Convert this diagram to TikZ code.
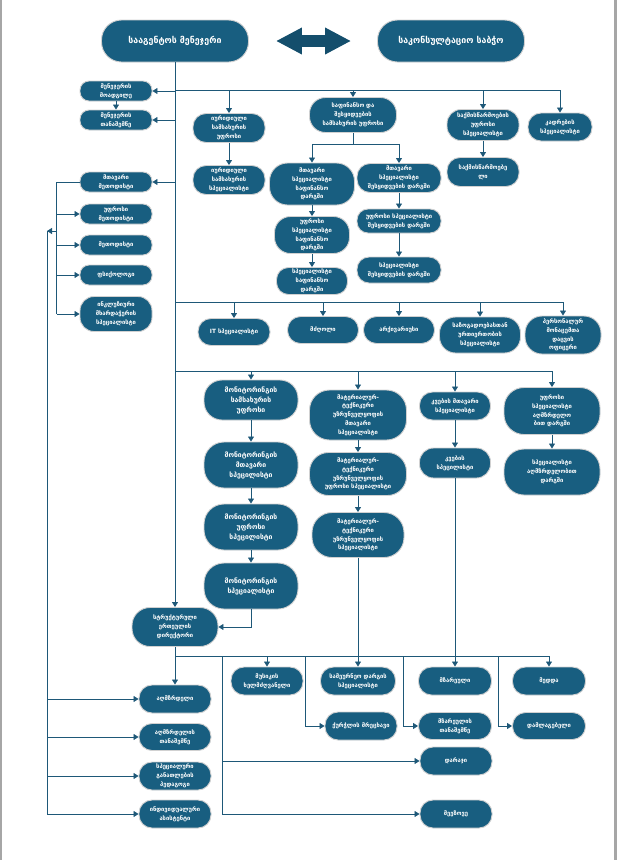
\documentclass[tikz,border=0pt]{standalone}
\usepackage{fontspec}
\setmainfont{DejaVu Sans}
\usetikzlibrary{arrows.meta}

\definecolor{boxblue}{RGB}{24,94,128}
\definecolor{lineblue}{RGB}{30,88,120}
\definecolor{arrowblue}{RGB}{20,78,108}

\tikzset{
  unitbox/.style n args={3}{fill=boxblue, draw=black!18, line width=0.9pt,
    rounded corners=#3pt, minimum width=#1pt, minimum height=#2pt,
    inner sep=1pt, align=center, text=white,
    font=\bfseries\fontsize{5.8}{8.8}\selectfont},
  bigbox/.style={unitbox={147}{42}{20}, font=\bfseries\fontsize{8.8}{10}\selectfont},
  monbox/.style={font=\bfseries\fontsize{6.8}{10}\selectfont},
  bus/.style={draw=lineblue, line width=0.8pt},
  link/.style={bus, -{Triangle[length=5pt,width=6pt]}}
}

\begin{document}
\begin{tikzpicture}[x=1pt,y=-1pt]

% Page size and edges
\useasboundingbox (0,0) rectangle (617,860);
\fill[black!35] (0,0) rectangle (2,860);
\fill[black!35] (614,0) rectangle (617,860);

% Top level
\node[bigbox] (mgr) at (175,41) {სააგენტოს მენეჯერი};
\node[bigbox] (council) at (451,41) {საკონსულტაციო საბჭო};

% Left column
\node[unitbox={72}{20}{9}] (dep) at (116,91) {მენეჯერის\\მოადგილე};
\node[unitbox={72}{20}{9}] (asst) at (116,120) {მენეჯერის\\თანაშემწე};
\node[unitbox={72}{20}{9}] (cmeth) at (116,182) {მთავარი\\მეთოდისტი};
\node[unitbox={72}{20}{9}] (smeth) at (116,214) {უფროსი\\მეთოდისტი};
\node[unitbox={72}{20}{9}] (meth) at (116,245) {მეთოდისტი};
\node[unitbox={72}{20}{9}] (psy) at (116,275) {ფსიქოლოგი};
\node[unitbox={72}{35}{14}] (incl) at (116,314) {ინკლუზიური\\მხარდაჭერის\\სპეციალისტი};

% Legal, finance, records, staff
\node[unitbox={72}{29}{13}] (legal) at (229,128) {იურიდიული\\სამსახურის\\უფროსი};
\node[unitbox={72}{29}{13}] (legalsp) at (229,180) {იურიდიული\\სამსახურის\\სპეციალისტი};
\node[unitbox={87}{35}{16}] (fin) at (353,115) {საფინანსო და\\შესყიდვების\\სამსახურის უფროსი};
\node[unitbox={85}{42}{18}] (finch) at (312,184) {მთავარი\\სპეციალისტი\\საფინანსო\\დარგში};
\node[unitbox={84}{29}{13}] (prch) at (399,178) {მთავარი\\სპეციალისტი\\შესყიდვების დარგში};
\node[unitbox={75}{37}{16}] (finsr) at (312,235) {უფროსი\\სპეციალისტი\\საფინანსო\\დარგში};
\node[unitbox={84}{24}{11}] (prsr) at (399,221) {უფროსი სპეციალისტი\\შესყიდვების დარგში};
\node[unitbox={71}{27}{12}] (finsp) at (312,281) {სპეციალისტი\\საფინანსო\\დარგში};
\node[unitbox={84}{26}{12}] (prsp) at (399,270) {სპეციალისტი\\შესყიდვების დარგში};
\node[unitbox={72}{31}{14}] (recsr) at (483,125) {საქმისწარმოების\\უფროსი\\სპეციალისტი};
\node[unitbox={72}{29}{13}] (clerk) at (483,172) {საქმისწარმოებე\\ლი};
\node[unitbox={64}{28}{13}] (hr) at (560,127) {კადრების\\სპეციალისტი};

% Second row
\node[unitbox={72}{27}{13}] (it) at (234,332) {IT სპეციალისტი};
\node[unitbox={71}{27}{13}] (drv) at (323,330) {მძღოლი};
\node[unitbox={71}{27}{13}] (arch) at (399,330) {არქივარიუსი};
\node[unitbox={81}{36}{16}] (pr) at (480,335) {საზოგადოებასთან\\ურთიერთობის\\სპეციალისტი};
\node[unitbox={76}{38}{17}] (dpo) at (563,335) {პერსონალურ\\მონაცემთა\\დაცვის\\ოფიცერი};

% Monitoring, material-technical, nutrition, upbringing
\node[unitbox={94}{40}{18}, monbox] (mhead) at (251,400) {მონიტორინგის\\სამსახურის\\უფროსი};
\node[unitbox={94}{46}{20}, monbox] (mch) at (251,465) {მონიტორინგის\\მთავარი\\სპეცილისტი};
\node[unitbox={94}{46}{20}, monbox] (msr) at (251,527) {მონიტორინგის\\უფროსი\\სპეცილისტი};
\node[unitbox={94}{46}{20}, monbox] (msp) at (251,586) {მონიტორინგის\\სპეციალისტი};
\node[unitbox={97}{50}{20}] (mtch) at (358,415) {მატერიალურ-\\ტექნიკური\\უზრუნველყოფის\\მთავარი\\სპეციალისტი};
\node[unitbox={97}{43}{19}] (mtsr) at (358,474) {მატერიალურ-\\ტექნიკური\\უზრუნველყოფის\\უფროსი სპეციალისტი};
\node[unitbox={92}{45}{20}] (mtsp) at (358,535) {მატერიალურ-\\ტექნიკური\\უზრუნველყოფის\\სპეციალისტი};
\node[unitbox={71}{28}{13}] (nch) at (455,406) {კვების მთავარი\\სპეციალისტი};
\node[unitbox={71}{30}{14}] (nsp) at (455,463) {კვების\\სპეცილისტი};
\node[unitbox={96}{47}{20}] (upsr) at (552,411) {უფროსი\\სპეციალისტი\\აღმზრდელო\\ბით დარგში};
\node[unitbox={96}{46}{20}] (upsp) at (552,472) {სპეციალისტი\\აღმზრდელობით\\დარგში};

% Structural unit
\node[unitbox={86}{39}{18}] (dir) at (175,627) {სტრუქტურული\\ერთეულის\\დირექტორი};
\node[unitbox={72}{28}{13}] (edu) at (175,699) {აღმზრდელი};
\node[unitbox={72}{27}{13}] (eduasst) at (175,737) {აღმზრდელის\\თანაშემწე};
\node[unitbox={72}{28}{13}] (sped) at (175,776) {სპეციალური\\განათლების\\პედაგოგი};
\node[unitbox={72}{28}{13}] (indiv) at (175,814) {ინდივიდუალური\\ასისტენტი};
\node[unitbox={72}{28}{13}] (music) at (267,681) {მუსიკის\\ხელმძღვანელი};
\node[unitbox={75}{28}{13}] (econ) at (358,681) {სამეურნეო დარგის\\სპეციალისტი};
\node[unitbox={72}{28}{13}] (dish) at (361,726) {ქურჭლის მრეცხავი};
\node[unitbox={73}{28}{13}] (cook) at (455,681) {მზარეული};
\node[unitbox={73}{27}{13}] (cookasst) at (455,726) {მზარეულის\\თანაშემწე};
\node[unitbox={73}{28}{13}] (nurse) at (549,681) {მედდა};
\node[unitbox={73}{27}{13}] (clean) at (549,726) {დამლაგებელი};
\node[unitbox={72}{28}{13}] (guard) at (456,761) {დარაჯი};
\node[unitbox={72}{28}{13}] (yard) at (456,814) {მეეზოვე};

% Double arrow between manager and council
\draw[arrowblue, line width=12pt,
  {Triangle[length=26pt,width=25pt]}-{Triangle[length=26pt,width=25pt]},
  shorten <=27pt, shorten >=26pt] (mgr) -- (council);

% Trunk
\draw[link] (mgr.south) -- (dir.north);

% Upper bus
\coordinate (busA) at (175,90);
\draw[bus] (busA) -- (busA -| hr);
\foreach \n in {legal,fin,recsr,hr}
  \draw[link] (busA -| \n) -- (\n);
\draw[link] (mgr |- dep) -- (dep);
\draw[link] (mgr |- asst) -- (asst);
\draw[link] (dep) -- (asst);
\draw[link] (mgr |- cmeth) -- (cmeth);
\draw[link] (legal) -- (legalsp);
\draw[link] (recsr) -- (clerk);

% Finance branch
\draw[bus] (fin.south) -- ++(0,11) coordinate (finj);
\draw[bus] (finj -| finch) -- (finj -| prch);
\draw[link] (finj -| finch) -- (finch);
\draw[link] (finj -| prch) -- (prch);
\draw[link] (finch) -- (finsr);
\draw[link] (finsr) -- (finsp);
\draw[link] (prch) -- (prsr);
\draw[link] (prsr) -- (prsp);

% Methodists bracket
\draw[bus] (cmeth.west) -- ++(-23,0) coordinate (brk) -- (brk |- incl);
\foreach \n in {smeth,meth,psy,incl}
  \draw[link] (brk |- \n) -- (\n);

% Educators bus
\coordinate (edubus) at (47,231);
\draw[link] (brk |- edubus) -- (edubus);
\draw[bus] (edubus) -- (edubus |- indiv);
\foreach \n in {edu,eduasst,sped,indiv}
  \draw[link] (edubus |- \n) -- (\n);

% Second row bus
\coordinate (busB) at (175,302);
\draw[bus] (busB) -- (busB -| dpo);
\foreach \n in {it,drv,arch,pr,dpo}
  \draw[link] (busB -| \n) -- (\n);

% Third row bus
\coordinate (busC) at (175,371);
\draw[bus] (busC) -- (busC -| upsr);
\foreach \n in {mhead,mtch,nch,upsr}
  \draw[link] (busC -| \n) -- (\n);
\draw[link] (mhead) -- (mch);
\draw[link] (mch) -- (msr);
\draw[link] (msr) -- (msp);
\draw[link] (msp.south) |- (dir.east);
\draw[link] (mtch) -- (mtsr);
\draw[link] (mtsr) -- (mtsp);
\draw[link] (mtsp) -- (econ);
\draw[link] (nch) -- (nsp);
\draw[link] (nsp) -- (cook);
\draw[link] (upsr) -- (upsp);

% Lower bus
\coordinate (busD) at (175,656);
\draw[bus] (busD) -- (busD -| nurse);
\draw[link] (dir) -- (edu);
\draw[link] (busD -| music) -- (music);
\draw[link] (busD -| nurse) -- (nurse);
\coordinate (gbr) at (222,656);
\draw[bus] (gbr) -- (gbr |- yard);
\draw[link] (gbr |- guard) -- (guard);
\draw[link] (gbr |- yard) -- (yard);
\coordinate (dbr) at (305,656);
\draw[link] (dbr) |- (dish);
\coordinate (cbr) at (403,656);
\draw[link] (cbr) |- (cookasst);
\coordinate (lbr) at (498,656);
\draw[link] (lbr) |- (clean);

\end{tikzpicture}
\end{document}
